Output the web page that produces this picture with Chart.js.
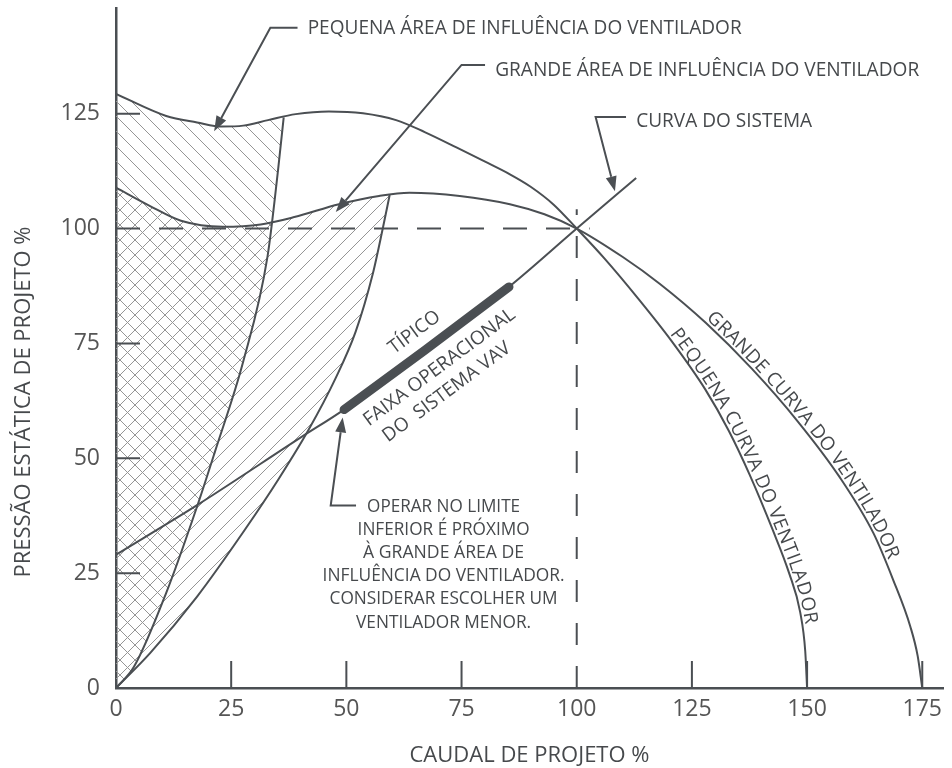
<!DOCTYPE html>
<html lang="pt">
<head>
  <meta charset="UTF-8">
  <title>Curvas do ventilador e do sistema</title>
  <script src="https://cdn.jsdelivr.net/npm/chart.js"></script>
  <style>
    body { margin: 0; background: #fff; }
    #wrap { width: 952px; height: 768px; position: relative; }
  </style>
</head>
<body>
<div id="wrap"><canvas id="fanChart"></canvas></div>
<script>
  // Pequena curva do ventilador (sobe mais alto, acaba em 150 %)
  const smallFanX = [0, 10.9, 17.6, 23, 27.6, 33, 39, 46.2, 53.6, 60.8, 67, 74, 80, 85.5, 90, 95, 100, 106, 113.3, 120.6, 127.9, 133, 137.5, 142.5, 146.1, 148.5, 149.6, 150];
  const smallFanY = [129.3, 124.5, 123.1, 122.2, 122.4, 123.6, 124.9, 125.5, 125.1, 123.6, 121, 117.6, 114.6, 111.8, 109.1, 105.2, 100, 93.5, 84.8, 75.5, 65, 56, 46.5, 34.5, 25, 16.5, 8, 0];

  // Grande curva do ventilador (acaba em 175 %)
  const largeFanX = [0, 7.4, 14.1, 23.2, 31.4, 38.7, 48.4, 57.1, 63.7, 74.6, 85.5, 93, 100, 110, 118, 128, 138, 148, 157, 164.4, 168.7, 172.4, 174, 175];
  const largeFanY = [108.9, 104.9, 101.7, 100.4, 100.9, 102.5, 105.3, 107.1, 107.8, 107.1, 105.3, 103.1, 100, 93.8, 88, 79.5, 69.5, 58, 46, 33.7, 23.5, 13.4, 7, 0];

  // Curva do sistema
  const systemX = [0, 17.6, 40.2, 49.5, 67, 85.3, 100, 112.9];
  const systemY = [29, 39.8, 54.6, 60.6, 73.5, 87.3, 100, 111];

  // faixa operacional típica VAV (trecho grosso)
  const vavX = [49.5, 67, 85.3];
  const vavY = [60.6, 73.5, 87.3];

  // limites das áreas de influência
  const leftEdgeX = [0, 3.9, 10.9, 17.6, 21.5, 27.6, 32.9, 35.2, 36.4];
  const leftEdgeY = [0, 4.6, 20.7, 39.5, 51.5, 71, 94, 113, 124.2];
  const rightEdgeX = [0, 7.4, 17.6, 28, 35.3, 41.8, 47.7, 52, 55.7, 57.9, 59.4];
  const rightEdgeY = [0, 7.6, 19.9, 34.5, 45.5, 56.2, 67.5, 77.5, 90, 100, 107.3];

  // ponto de projeto
  const designX = 100;
  const designY = 100;
  const designHLineEnd = 102.8;
  const designVLineEnd = 104.2;

  const xTicks = [0, 25, 50, 75, 100, 125, 150, 175];
  const yTicks = [0, 25, 50, 75, 100, 125];

  // chamadas: [x, y] em unidades do gráfico, a última é a ponta da seta
  const calloutPequena = [[39.4, 143.7], [33.5, 143.7], [21.3, 121.2]];
  const calloutGrande = [[80.1, 135.6], [75.0, 135.6], [47.7, 103.6]];
  const calloutSistema = [[110.7, 124.3], [104.1, 124.3], [108.3, 108.1]];
  const calloutNota = [[52.1, 39.7], [46.6, 39.7], [49.2, 58.9]];

  const notaLines = ['OPERAR NO LIMITE', 'INFERIOR É PRÓXIMO', 'À GRANDE ÁREA DE',
    'INFLUÊNCIA DO VENTILADOR.', 'CONSIDERAR ESCOLHER UM', 'VENTILADOR MENOR.'];
  const notaWidths = [153, 172, 161, 242, 228, 175];

  const INK = '#4b4f53';
  const TEXT = '#46494c';
  const FONT = "'Open Sans', 'Noto Sans', sans-serif";

  const pts = (xs, ys) => xs.map((x, i) => ({ x: x, y: ys[i] }));

  // polígonos de preenchimento: curva do ventilador até o limite da área
  const leftTop = { x: leftEdgeX[leftEdgeX.length - 1], y: leftEdgeY[leftEdgeY.length - 1] };
  const rightTop = { x: rightEdgeX[rightEdgeX.length - 1], y: rightEdgeY[rightEdgeY.length - 1] };
  const smallArea = pts(smallFanX, smallFanY).filter(p => p.x < leftTop.x).concat([leftTop]);
  const largeArea = pts(largeFanX, largeFanY).filter(p => p.x < rightTop.x).concat([rightTop]);

  function hatch(dir) {
    const s = 15;
    const c = document.createElement('canvas');
    c.width = s; c.height = s;
    const g = c.getContext('2d');
    g.strokeStyle = '#959595';
    g.lineWidth = 1;
    g.beginPath();
    if (dir === '/') {
      g.moveTo(0, s); g.lineTo(s, 0);
      g.moveTo(-2, 2); g.lineTo(2, -2);
      g.moveTo(s - 2, s + 2); g.lineTo(s + 2, s - 2);
    } else {
      g.moveTo(0, 0); g.lineTo(s, s);
      g.moveTo(s - 2, -2); g.lineTo(s + 2, 2);
      g.moveTo(-2, s - 2); g.lineTo(2, s + 2);
    }
    g.stroke();
    return g.createPattern(c, 'repeat');
  }

  const curve = {
    borderColor: INK, borderWidth: 2, pointRadius: 0, fill: false,
    tension: 0.4, cubicInterpolationMode: 'monotone'
  };

  // amostra a curva desenhada (bezier) para escrever texto ao longo dela
  function sampleLine(meta) {
    const p = meta.data;
    const out = [{ x: p[0].x, y: p[0].y, s: 0 }];
    for (let i = 0; i < p.length - 1; i++) {
      const a = p[i], b = p[i + 1];
      const c1x = a.cp2x ?? a.x, c1y = a.cp2y ?? a.y;
      const c2x = b.cp1x ?? b.x, c2y = b.cp1y ?? b.y;
      for (let k = 1; k <= 24; k++) {
        const t = k / 24, u = 1 - t;
        out.push({
          x: u * u * u * a.x + 3 * u * u * t * c1x + 3 * u * t * t * c2x + t * t * t * b.x,
          y: u * u * u * a.y + 3 * u * u * t * c1y + 3 * u * t * t * c2y + t * t * t * b.y
        });
      }
    }
    for (let i = 1; i < out.length; i++) {
      out[i].s = out[i - 1].s + Math.hypot(out[i].x - out[i - 1].x, out[i].y - out[i - 1].y);
    }
    return out;
  }

  function pointAt(path, s) {
    let i = 1;
    while (i < path.length - 1 && path[i].s < s) i++;
    const a = path[i - 1], b = path[i];
    const f = (s - a.s) / ((b.s - a.s) || 1);
    return { x: a.x + (b.x - a.x) * f, y: a.y + (b.y - a.y) * f, ang: Math.atan2(b.y - a.y, b.x - a.x) };
  }

  function arcAtX(path, px) {
    const q = path.find(p => p.x >= px) || path[path.length - 1];
    return q.s;
  }

  function curveText(ctx, path, text, s0, s1, off) {
    const chars = [...text];
    const ws = chars.map(ch => ctx.measureText(ch).width);
    const total = ws.reduce((a, b) => a + b, 0);
    const gap = (s1 - s0 - total) / (chars.length - 1);
    let s = s0;
    chars.forEach((ch, i) => {
      const q = pointAt(path, s + ws[i] / 2);
      ctx.save();
      ctx.translate(q.x + Math.sin(q.ang) * off, q.y - Math.cos(q.ang) * off);
      ctx.rotate(q.ang);
      ctx.fillText(ch, 0, 0);
      ctx.restore();
      s += ws[i] + gap;
    });
  }

  function arrow(ctx, X, Y, list) {
    const p = list.map(([a, b]) => [X(a), Y(b)]);
    const [tx, ty] = p[p.length - 1];
    const [fx, fy] = p[p.length - 2];
    const ang = Math.atan2(ty - fy, tx - fx);
    const len = 15, half = 5.5;
    const bx = tx - Math.cos(ang) * len, by = ty - Math.sin(ang) * len;
    ctx.beginPath();
    ctx.moveTo(p[0][0], p[0][1]);
    for (let i = 1; i < p.length - 1; i++) ctx.lineTo(p[i][0], p[i][1]);
    ctx.lineTo(bx, by);
    ctx.stroke();
    ctx.beginPath();
    ctx.moveTo(tx, ty);
    ctx.lineTo(bx + Math.sin(ang) * half, by - Math.cos(ang) * half);
    ctx.lineTo(bx - Math.sin(ang) * half, by + Math.cos(ang) * half);
    ctx.closePath();
    ctx.fill();
  }

  const annotations = {
    id: 'annotations',
    afterDraw(chart) {
      const { ctx, scales: { x, y } } = chart;
      const X = v => x.getPixelForValue(v);
      const Y = v => y.getPixelForValue(v);
      ctx.save();

      // marcas internas dos eixos
      ctx.strokeStyle = INK;
      ctx.lineWidth = 2;
      ctx.beginPath();
      y.ticks.forEach(t => {
        if (t.value === 0 || t.value === designY) return;
        ctx.moveTo(X(0), Y(t.value)); ctx.lineTo(X(0) + 24, Y(t.value));
      });
      x.ticks.forEach(t => {
        if (t.value === 0 || t.value === designX) return;
        ctx.moveTo(X(t.value), Y(0)); ctx.lineTo(X(t.value), Y(0) - 27);
      });
      ctx.stroke();

      // setas das chamadas
      ctx.fillStyle = INK;
      ctx.lineWidth = 2;
      [calloutPequena, calloutGrande, calloutSistema, calloutNota].forEach(c => arrow(ctx, X, Y, c));

      // textos das chamadas
      ctx.fillStyle = TEXT;
      ctx.textBaseline = 'alphabetic';
      ctx.textAlign = 'left';
      ctx.font = '20px ' + FONT;
      ctx.fillText('PEQUENA ÁREA DE INFLUÊNCIA DO VENTILADOR', X(41.6), Y(142.4), 434);
      ctx.fillText('GRANDE ÁREA DE INFLUÊNCIA DO VENTILADOR', X(82.3), Y(133.2), 424);
      ctx.fillText('CURVA DO SISTEMA', X(112.9), Y(122.1), 176);

      ctx.textAlign = 'center';
      ctx.font = '18px ' + FONT;
      notaLines.forEach((t, i) => ctx.fillText(t, X(71.1), Y(38.4) + i * 23.2, notaWidths[i]));

      // textos ao longo da faixa VAV
      const ang = Math.atan2(Y(vavY[vavY.length - 1]) - Y(vavY[0]), X(vavX[vavX.length - 1]) - X(vavX[0]));
      ctx.font = '19px ' + FONT;
      ctx.textBaseline = 'middle';
      [['TÍPICO', 64.8, 77.4, 66], ['FAIXA OPERACIONAL', 70.2, 69.8, 196], ['DO  SISTEMA VAV', 71.8, 64.4, 160]]
        .forEach(([t, a, b, w]) => {
          ctx.save();
          ctx.translate(X(a), Y(b));
          ctx.rotate(ang);
          ctx.fillText(t, 0, 0, w);
          ctx.restore();
        });

      // nomes das curvas do ventilador
      ctx.textBaseline = 'alphabetic';
      ctx.font = '19px ' + FONT;
      const pathLarge = sampleLine(chart.getDatasetMeta(1));
      curveText(ctx, pathLarge, 'GRANDE CURVA DO VENTILADOR', arcAtX(pathLarge, X(127.5)), arcAtX(pathLarge, X(167)), 3);
      const pathSmall = sampleLine(chart.getDatasetMeta(0));
      curveText(ctx, pathSmall, 'PEQUENA CURVA DO VENTILADOR', arcAtX(pathSmall, X(119.5)), arcAtX(pathSmall, X(149)), 3);

      // títulos dos eixos
      ctx.font = '22px ' + FONT;
      ctx.textAlign = 'center';
      ctx.fillText('CAUDAL DE PROJETO %', (chart.chartArea.left + chart.chartArea.right) / 2, 762, 248);
      ctx.save();
      ctx.translate(30, 402);
      ctx.rotate(-Math.PI / 2);
      ctx.fillText('PRESSÃO ESTÁTICA DE PROJETO %', 0, 0, 352);
      ctx.restore();

      ctx.restore();
    }
  };

  new Chart(document.getElementById('fanChart'), {
    type: 'line',
    data: {
      datasets: [
        { ...curve, label: 'Pequena curva do ventilador', data: pts(smallFanX, smallFanY) },
        { ...curve, label: 'Grande curva do ventilador', data: pts(largeFanX, largeFanY) },
        { ...curve, label: 'Curva do sistema', data: pts(systemX, systemY) },
        { ...curve, label: 'Limite pequena área', data: pts(leftEdgeX, leftEdgeY) },
        { ...curve, label: 'Limite grande área', data: pts(rightEdgeX, rightEdgeY) },
        { ...curve, label: 'Faixa VAV', data: pts(vavX, vavY), borderWidth: 9, borderCapStyle: 'round', tension: 0, cubicInterpolationMode: 'default' },
        { ...curve, label: 'Pressão de projeto', data: [{ x: 0, y: designY }, { x: designHLineEnd, y: designY }], borderDash: [24, 19], tension: 0, cubicInterpolationMode: 'default' },
        { ...curve, label: 'Caudal de projeto', data: [{ x: designX, y: 0 }, { x: designX, y: designVLineEnd }], borderDash: [22, 21], tension: 0, cubicInterpolationMode: 'default' },
        { ...curve, label: 'Pequena área', data: smallArea, borderWidth: 0, borderColor: 'transparent', backgroundColor: hatch('\\'), fill: 3 },
        { ...curve, label: 'Grande área', data: largeArea, borderWidth: 0, borderColor: 'transparent', backgroundColor: hatch('/'), fill: 4 }
      ]
    },
    options: {
      responsive: true,
      maintainAspectRatio: false,
      animation: false,
      events: [],
      layout: { padding: { top: 8, right: 9, left: 0, bottom: 0 } },
      plugins: {
        legend: { display: false },
        tooltip: { enabled: false },
        filler: { propagate: false, drawTime: 'beforeDatasetsDraw' }
      },
      scales: {
        x: {
          type: 'linear', min: 0, max: 179.5,
          afterFit: s => { s.height = 80; s.paddingLeft = 0; s.paddingRight = 0; },
          afterBuildTicks: s => { s.ticks = xTicks.map(v => ({ value: v })); },
          grid: { display: false, drawTicks: false },
          border: { color: INK, width: 2.5 },
          ticks: { padding: 8, color: '#555', font: { family: FONT, size: 23 } }
        },
        y: {
          type: 'linear', min: 0, max: 148,
          afterFit: s => { s.width = 116; s.paddingTop = 0; s.paddingBottom = 0; },
          afterBuildTicks: s => { s.ticks = yTicks.map(v => ({ value: v })); },
          grid: { display: false, drawTicks: false },
          border: { color: INK, width: 2.5 },
          ticks: { padding: 16, color: '#555', font: { family: FONT, size: 23 } }
        }
      }
    },
    plugins: [annotations]
  });
</script>
</body>
</html>
